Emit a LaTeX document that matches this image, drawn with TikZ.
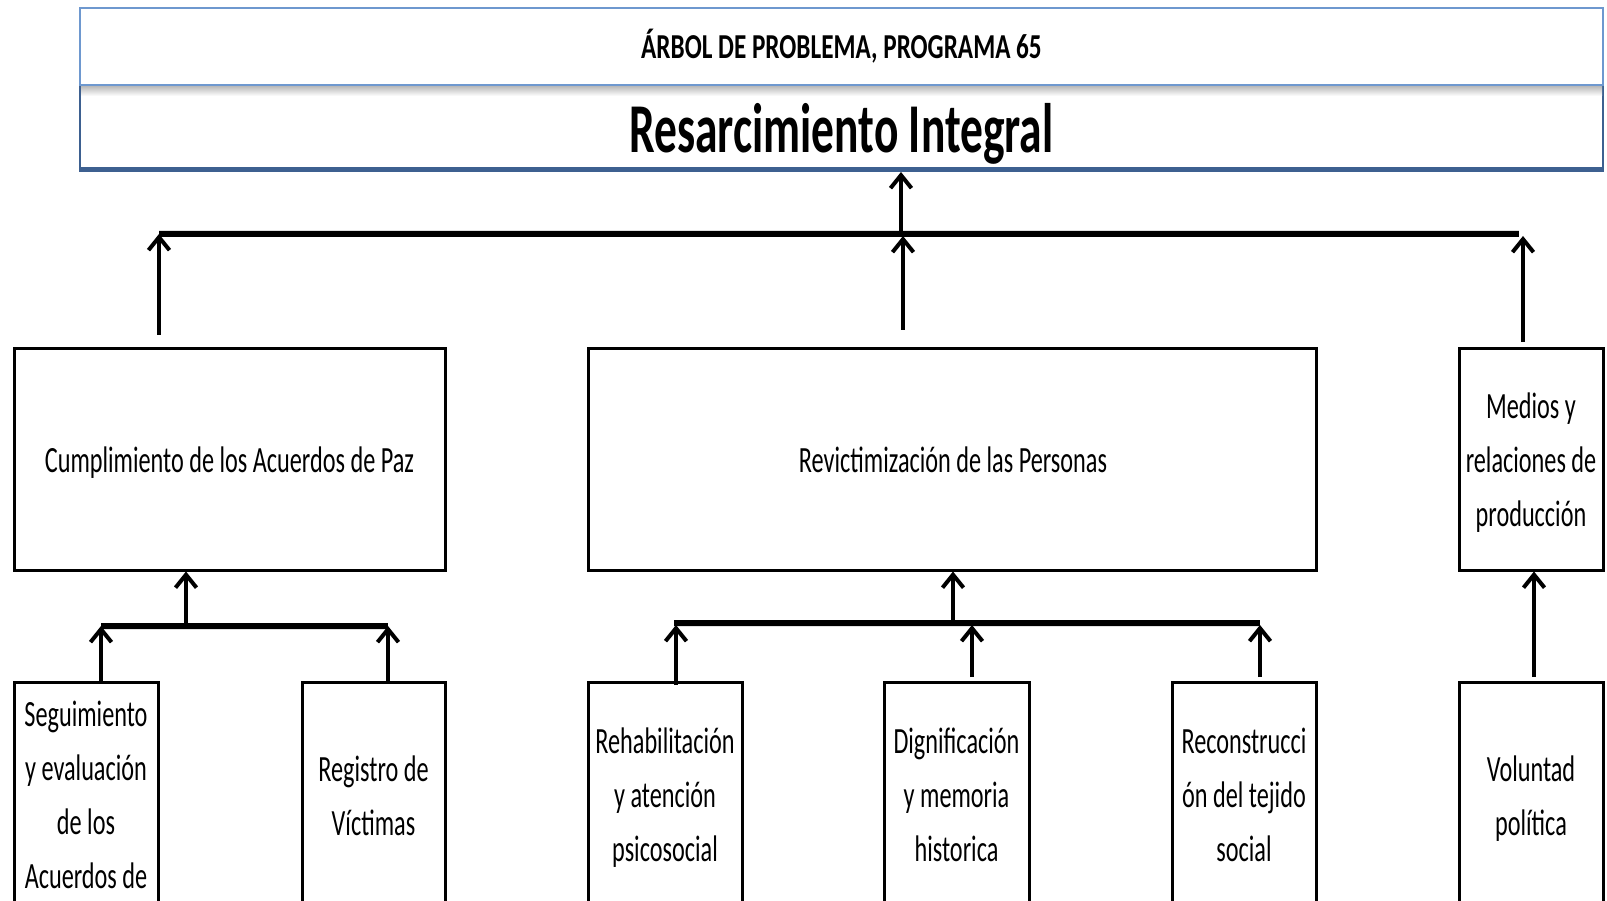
\documentclass[tikz,border=0pt]{standalone}
\usepackage{fontspec}
\setmainfont{Carlito}
\newfontfamily\bodyfont{Carlito}[FakeStretch=0.655]
\newfontfamily\hdrfont{Carlito}[FakeStretch=0.72]
\newfontfamily\resfont{Carlito}[FakeStretch=0.65]
\usetikzlibrary{arrows.meta}
\definecolor{hdrblue}{HTML}{6E98CF}
\definecolor{darkblue}{HTML}{3D6090}
\begin{document}
\begin{tikzpicture}[x=1pt,y=-1pt,
  box/.style={draw=black,line width=3pt,inner sep=0pt,fill=white},
  txt/.style={font=\bodyfont\fontsize{37}{54}\selectfont,align=center,inner sep=0pt,anchor=base},
  up/.style={line width=4pt,-{Straight Barb[length=13pt,width=21pt]}},
  bar/.style={line width=5.5pt},
  shadow/.style={line width=7pt,draw=black,opacity=0.12,yshift=-4pt}]
\path[use as bounding box] (0,0) rectangle (1607,901);
\clip (0,0) rectangle (1607,901);
\fill[white] (0,0) rectangle (1607,901);

% header
\node[draw=darkblue,line width=2pt,minimum width=1523pt,minimum height=86pt,inner sep=0pt] (res) at (841.5,128) {};
\draw[darkblue,line width=5pt] (80,170) -- (1603,170);
\fill[top color=gray!55,bottom color=white,draw=none] (81,86) rectangle (1602,96);
\node[draw=hdrblue,line width=2pt,minimum width=1523pt,minimum height=77pt,inner sep=0pt] (hdr) at (841.5,46.5) {};
\node[font=\hdrfont\bfseries\fontsize{35}{36}\selectfont,anchor=base] (t1) at (841.5,59) {ÁRBOL DE PROBLEMA, PROGRAMA 65};
\node[font=\resfont\bfseries\fontsize{70}{72}\selectfont,anchor=base] (t2) at (841.5,153) {Resarcimiento Integral};

% middle boxes
\node[box,minimum width=431pt,minimum height=221pt] (b1) at (229.5,459.5) {};
\node[box,minimum width=728pt,minimum height=221pt] (b2) at (952,459.5) {};
\node[box,minimum width=144pt,minimum height=221pt] (b3) at (1531,459.5) {};
\node[txt] (l1) at (229.5,472) {Cumplimiento de los Acuerdos de Paz};
\node[txt] (l2) at (953,472) {Revictimización de las Personas};
\node[txt] (l3) at (1531,526) {Medios y\\relaciones de\\producción};

% bottom boxes
\node[box,minimum width=144pt,minimum height=278pt] (c1) at (86,821) {};
\node[box,minimum width=143pt,minimum height=278pt] (c2) at (373.5,821) {};
\node[box,minimum width=154pt,minimum height=278pt] (c3) at (665,821) {};
\node[box,minimum width=145pt,minimum height=278pt] (c4) at (956.5,821) {};
\node[box,minimum width=144pt,minimum height=278pt] (c5) at (1244,821) {};
\node[box,minimum width=144pt,minimum height=278pt] (c6) at (1531,821) {};
\node[txt] (m1) at (86,888) {Seguimiento\\y evaluación\\de los\\Acuerdos de};
\node[txt] (m2) at (373.5,835) {Registro de\\Víctimas};
\node[txt] (m3) at (665,861) {Rehabilitación\\y atención\\psicosocial};
\node[txt] (m4) at (956.5,861) {Dignificación\\y memoria\\historica};
\node[txt] (m5) at (1244,861) {Reconstrucci\\ón del tejido\\social};
\node[txt] (m6) at (1531,835) {Voluntad\\política};

% top tree
\coordinate (tbL) at (159,234);
\coordinate (tbR) at (1519,234);
\coordinate (tbM) at (901,234);
\draw[shadow] (tbL) -- (tbR);
\draw[bar] (tbL) -- (tbR);
\draw[up] (tbM) -- (tbM |- res.south);
\coordinate (a1) at (159,335);
\coordinate (a2) at (903,330);
\coordinate (a3) at (1523,342);
\draw[up] (a1) -- (tbL);
\draw[up] (a2) -- (903,236);
\draw[up] (a3) -- (1523,236);

% left group
\coordinate (lbL) at (101,626);
\coordinate (lbR) at (388,626);
\coordinate (lbM) at (186,626);
\draw[shadow] (lbL) -- (lbR);
\draw[bar] (lbL) -- (lbR);
\draw[up] (lbM) -- (lbM |- b1.south);
\draw[up] (lbL |- c1.north) -- (lbL);
\draw[up] (lbR |- c2.north) -- (lbR);

% middle group
\coordinate (mbL) at (674,623);
\coordinate (mbR) at (1260,623);
\coordinate (mbM) at (953,623);
\draw[shadow] (mbL) -- (mbR);
\draw[bar] (mbL) -- (mbR);
\draw[up] (mbM) -- (mbM |- b2.south);
\coordinate (d3) at (676,685);
\coordinate (d4) at (972,677);
\coordinate (d5) at (1260,677);
\draw[up] (d3) -- (676,625);
\draw[up] (d4) -- (972,625);
\draw[up] (d5) -- (1260,625);

% right
\coordinate (r6) at (1534,677);
\draw[up] (r6) -- (r6 |- b3.south);
\end{tikzpicture}
\end{document}
